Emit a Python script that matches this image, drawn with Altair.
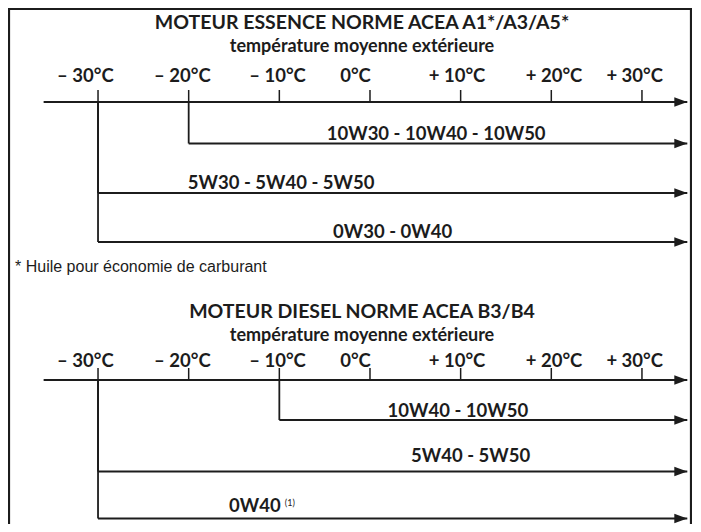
import altair as alt
import pandas as pd

# ---------------- data ----------------
temps = [-30, -20, -10, 0, 10, 20, 30]
temp_labels = ["– 30°C", "– 20°C", "– 10°C", "0°C", "+ 10°C", "+ 20°C", "+ 30°C"]
axis_start, axis_end = -36, 35

section_titles = ["MOTEUR ESSENCE NORME ACEA A1*/A3/A5*", "MOTEUR DIESEL NORME ACEA B3/B4"]
subtitle = "température moyenne extérieure"

essence_grades = ["10W30 - 10W40 - 10W50", "5W30 - 5W40 - 5W50", "0W30 - 0W40"]
essence_min = [-20, -30, -30]
diesel_grades = ["10W40 - 10W50", "5W40 - 5W50", "0W40"]
diesel_min = [-10, -30, -30]

footnote = "* Huile pour économie de carburant"
note_ref = "(1)"

# ---------------- layout (chart pixels / label anchors in °C) ----------------
W, H = 684, 516
tick_label_at = [-31.4, -20.7, -10.2, -1.6, 9.6, 20.3, 29.2]
essence_label_at = [7.3, -9.8, 2.5]
diesel_label_at = [9.7, 11.1, -12.7]
note_ref_at = -9.4

sections = [
    dict(title_y=21, sub_y=44, tick_y=74, axis_y=94,
         row_y=[135.5, 185, 234], label_y=[132, 181, 230],
         grades=essence_grades, mins=essence_min, label_at=essence_label_at),
    dict(title_y=310, sub_y=333, tick_y=359, axis_y=372,
         row_y=[412, 463.5, 510.5], label_y=[409, 454, 504],
         grades=diesel_grades, mins=diesel_min, label_at=diesel_label_at),
]
footnote_y = 264

INK = "#1c1c1c"

# ---------------- build tables ----------------
segs, heads, tick_txt, grade_txt, titles, subs = [], [], [], [], [], []
for i, s in enumerate(sections):
    ay = s["axis_y"]
    segs.append(dict(x=axis_start, x2=axis_end, y=ay, y2=ay, w=2))
    heads.append(dict(x=axis_end, y=ay))
    for t, lab, la in zip(temps, temp_labels, tick_label_at):
        segs.append(dict(x=t, x2=t, y=ay - 12, y2=ay, w=1.5))
        tick_txt.append(dict(x=la, y=s["tick_y"], text=lab))
    for g, m, ry, ly, la in zip(s["grades"], s["mins"], s["row_y"], s["label_y"], s["label_at"]):
        segs.append(dict(x=m, x2=m, y=ay, y2=ry, w=1.8))
        segs.append(dict(x=m, x2=axis_end, y=ry, y2=ry, w=2))
        heads.append(dict(x=axis_end, y=ry))
        grade_txt.append(dict(x=la, y=ly, text=g))
    titles.append(dict(y=s["title_y"], text=section_titles[i]))
    subs.append(dict(y=s["sub_y"], text=subtitle))

seg_df = pd.DataFrame(segs)
head_df = pd.DataFrame(heads)
tick_df = pd.DataFrame(tick_txt)
grade_df = pd.DataFrame(grade_txt)
title_df = pd.DataFrame(titles)
sub_df = pd.DataFrame(subs)
note_df = pd.DataFrame([dict(x=note_ref_at, y=sections[1]["label_y"][2] - 6, text=note_ref)])
foot_df = pd.DataFrame([dict(y=footnote_y, text=footnote)])

xs = alt.Scale(domain=[-39.93, 35.52], nice=False, zero=False)
ys = alt.Scale(domain=[0, H], reverse=True, nice=False, zero=False)
X = lambda f="x": alt.X(f + ":Q", scale=xs, axis=None)
Y = lambda f="y": alt.Y(f + ":Q", scale=ys, axis=None)

frame = alt.Chart(alt.Data(values=[{}])).mark_rect(
    filled=False, stroke=INK, strokeWidth=2.2, clip=False
).encode(x=alt.value(1), x2=alt.value(W - 1), y=alt.value(1), y2=alt.value(H + 40))

rules = alt.Chart(seg_df).mark_rule(color=INK, strokeCap="butt").encode(
    x=X(), x2="x2:Q", y=Y(), y2="y2:Q",
    strokeWidth=alt.StrokeWidth("w:Q", scale=None),
)

arrow = alt.Chart(head_df).mark_point(
    shape="M -2 -0.72 L 0 0 L -2 0.72 Z", size=169, filled=True,
    color=INK, opacity=1, strokeWidth=0,
).encode(x=X(), y=Y())

FONT = "Lato"
title_txt = alt.Chart(title_df).mark_text(
    font=FONT, fontWeight="bold", fontSize=19.5, align="center", baseline="alphabetic", color=INK
).encode(x=alt.value(354), y=Y(), text="text:N")

sub_txt = alt.Chart(sub_df).mark_text(
    font=FONT, fontWeight="bold", fontSize=18, align="center", baseline="alphabetic", color=INK
).encode(x=alt.value(354), y=Y(), text="text:N")

tick_lbl = alt.Chart(tick_df).mark_text(
    font=FONT, fontWeight="bold", fontSize=18.5, align="center", baseline="alphabetic", color=INK
).encode(x=X(), y=Y(), text="text:N")

grade_lbl = alt.Chart(grade_df).mark_text(
    font=FONT, fontWeight="bold", fontSize=18.5, align="center", baseline="alphabetic", color=INK
).encode(x=X(), y=Y(), text="text:N")

note_lbl = alt.Chart(note_df).mark_text(
    font=FONT, fontSize=9, align="left", baseline="alphabetic", color=INK
).encode(x=X(), y=Y(), text="text:N")

foot_lbl = alt.Chart(foot_df).mark_text(
    font="Liberation Sans", fontSize=16, align="left", baseline="alphabetic", color=INK
).encode(x=alt.value(7), y=Y(), text="text:N")

chart = alt.layer(
    frame, rules, arrow, title_txt, sub_txt, tick_lbl, grade_lbl, note_lbl, foot_lbl
).properties(
    width=W, height=H, autosize=alt.AutoSizeParams(type="none"), padding=0,
    background="white",
).configure_view(stroke=None)

chart.save("out.html", embed_options={"renderer": "svg", "actions": False})
